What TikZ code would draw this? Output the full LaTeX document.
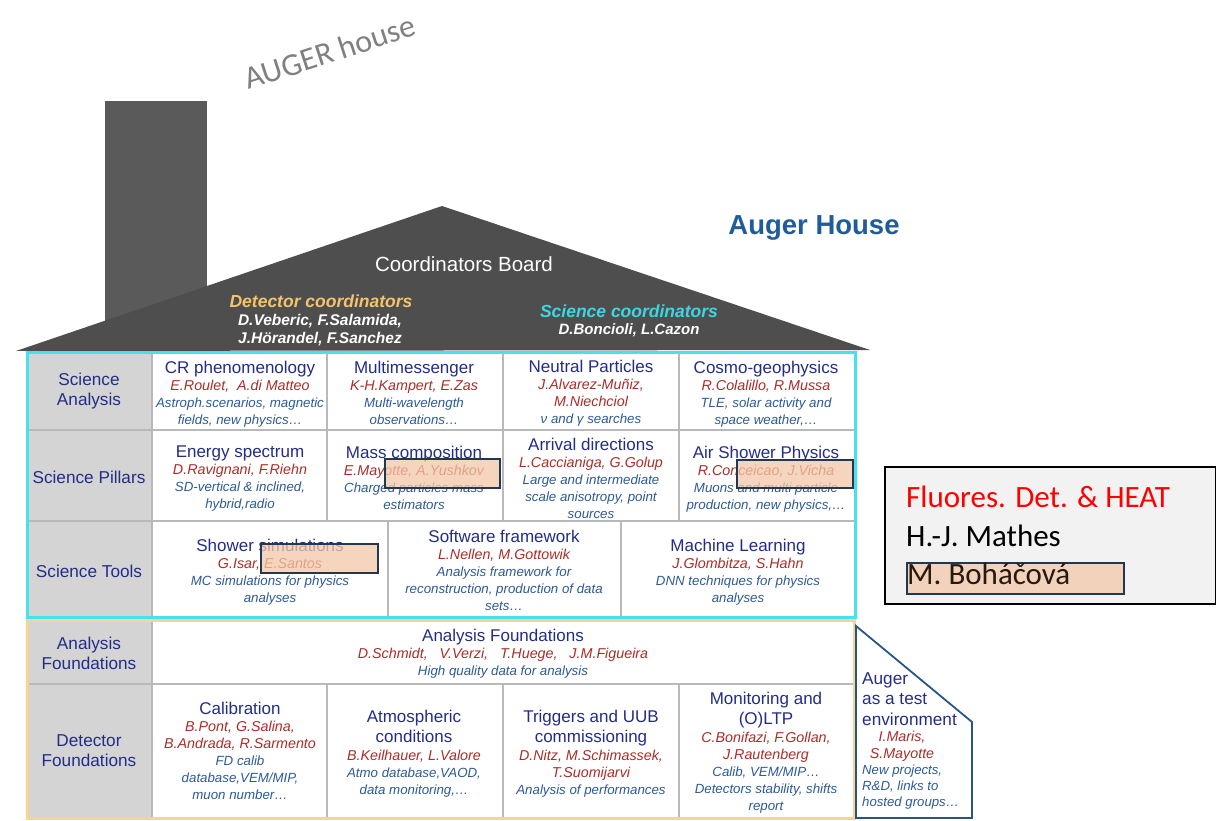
\documentclass[tikz,border=0pt]{standalone}
\usepackage{fontspec}
\setmainfont{Liberation Sans}
\newfontfamily\calib{Carlito}
\definecolor{ttlc}{RGB}{35,45,135}
\definecolor{nmc}{RGB}{170,45,40}
\definecolor{dsc}{RGB}{45,90,150}
\definecolor{lblgray}{RGB}{212,212,212}
\definecolor{cyanb}{RGB}{70,225,235}
\definecolor{orangeb}{RGB}{247,212,145}
\definecolor{gridc}{RGB}{185,185,185}
\definecolor{roofc}{RGB}{78,78,78}
\definecolor{chimc}{RGB}{90,90,90}
\definecolor{houseblue}{RGB}{31,92,153}
\definecolor{sideb}{RGB}{40,85,130}
\definecolor{peach}{RGB}{244,200,170}
\definecolor{hlb}{RGB}{35,55,80}
\definecolor{detc}{RGB}{245,195,105}
\definecolor{scic}{RGB}{60,215,225}
\definecolor{boxgray}{RGB}{242,242,242}
\newcommand\ttl[1]{{\upshape\fontsize{17}{19}\selectfont\color{ttlc}#1}}
\newcommand\nm[1]{{\fontsize{14.3}{17}\selectfont\color{nmc}#1}}
\newcommand\ds[1]{{\color{dsc}#1}}
\begin{document}
\begin{tikzpicture}[x=1pt,y=-1pt,
  cell/.style={align=center, inner sep=0pt, anchor=north, font=\fontsize{13.3}{17}\selectfont\itshape},
  lbl/.style={align=center, inner sep=0pt, text=ttlc, font=\fontsize{17.2}{20}\selectfont},
  gridline/.style={draw=gridc, line width=1.3pt},
  hl/.style={fill=peach, fill opacity=0.75, draw=hlb, line width=2pt},
  roofw/.style={text=white, inner sep=0pt, align=center},
]
\useasboundingbox (0,0) rectangle (1216,821);
% chimney and roof
\fill[chimc] (105,101) rectangle (207,340);
\fill[roofc] (16,351) -- (442,206) -- (870,350) -- cycle;
\node[text=black!50, font=\calib\fontsize{32}{36}\selectfont, rotate=18, inner sep=0pt] (augerhouse) at (330,52) {AUGER house};
\node[text=houseblue, font=\bfseries\fontsize{27.5}{30}\selectfont, inner sep=0pt] (augerH) at (814,228) {Auger House};
\node[roofw, font=\fontsize{20.5}{24}\selectfont] (board) at (464,264) {Coordinators Board};
\node[roofw, text=detc, font=\bfseries\itshape\fontsize{17.5}{20}\selectfont] (detcoord) at (321,301) {Detector coordinators};
\node[roofw, font=\bfseries\itshape\fontsize{15.5}{18}\selectfont, anchor=north] (detnames) at (320,314) {D.Veberic, F.Salamida,\\ J.Hörandel, F.Sanchez};
\node[roofw, text=scic, font=\bfseries\itshape\fontsize{17.5}{20}\selectfont] (scicoord) at (629,311) {Science coordinators};
\node[roofw, font=\bfseries\itshape\fontsize{15}{18}\selectfont] (scinames) at (629,330) {D.Boncioli, L.Cazon};

% science block
\fill[white] (27,352) rectangle (855,617);
\fill[lblgray] (27,352) rectangle (152,617);
\draw[gridline] (27,430) -- (855,430);
\draw[gridline] (27,521) -- (855,521);
\draw[gridline] (152,352) -- (152,617);
\foreach \xx in {327,503,679} \draw[gridline] (\xx,352) -- (\xx,521);
\foreach \xx in {388,621} \draw[gridline] (\xx,521) -- (\xx,617);
% foundations block
\fill[white] (27,620) rectangle (854,818);
\fill[lblgray] (27,620) rectangle (152,818);
\draw[gridline] (27,684) -- (854,684);
\draw[gridline] (152,620) -- (152,818);
\foreach \xx in {327,503,679} \draw[gridline] (\xx,684) -- (\xx,818);

% row labels
\node[lbl] (lsa) at (89,391) {Science\\Analysis};
\node[lbl] (lsp) at (89,477) {Science Pillars};
\node[lbl] (lst) at (89,571) {Science Tools};
\node[lbl] (laf) at (89,653) {Analysis\\Foundations};
\node[lbl] (ldf) at (89,751) {Detector\\Foundations};

% row 1
\node[cell] (crp) at (240,360.5) {\ttl{CR phenomenology}\\ \nm{E.Roulet,\ \ A.di Matteo}\\ \ds{Astroph.scenarios, magnetic}\\ \ds{fields, new physics\dots}};
\node[cell] (mm) at (414,360.5) {\ttl{Multimessenger}\\ \nm{K-H.Kampert, E.Zas}\\ \ds{Multi-wavelength}\\ \ds{observations\dots}};
\node[cell] (np) at (591,359.5) {\ttl{Neutral Particles}\\ \nm{J.Alvarez-Muñiz,}\\ \nm{M.Niechciol}\\ \ds{ν and γ searches}};
\node[cell] (cg) at (766,360.5) {\ttl{Cosmo-geophysics}\\ \nm{R.Colalillo, R.Mussa}\\ \ds{TLE, solar activity and}\\ \ds{space weather,\dots}};
% row 2
\node[cell] (es) at (240,445.5) {\ttl{Energy spectrum}\\ \nm{D.Ravignani, F.Riehn}\\ \ds{SD-vertical \& inclined,}\\ \ds{hybrid,radio}};
\node[cell] (mc) at (414,445.5) {\ttl{Mass composition}\\ \nm{E.Mayotte, A.Yushkov}\\ \ds{Charged particles mass}\\ \ds{estimators}};
\node[cell] (ad) at (591,437.5) {\ttl{Arrival directions}\\ \nm{L.Caccianiga, G.Golup}\\ \ds{Large and intermediate}\\ \ds{scale anisotropy, point}\\ \ds{sources}};
\node[cell] (asp) at (766,445.5) {\ttl{Air Shower Physics}\\ \nm{R.Conceicao, J.Vicha}\\ \ds{Muons and multi particle}\\ \ds{production, new physics,\dots}};
% row 3
\node[cell] (ss) at (270,538.5) {\ttl{Shower simulations}\\ \nm{G.Isar, E.Santos}\\ \ds{MC simulations for physics}\\ \ds{analyses}};
\node[cell] (sf) at (504,529.5) {\ttl{Software framework}\\ \nm{L.Nellen, M.Gottowik}\\ \ds{Analysis framework for}\\ \ds{reconstruction, production of data}\\ \ds{sets\dots}};
\node[cell] (ml) at (738,538.5) {\ttl{Machine Learning}\\ \nm{J.Glombitza, S.Hahn}\\ \ds{DNN techniques for physics}\\ \ds{analyses}};
% analysis foundations
\node[cell] (af) at (503,628.5) {\ttl{Analysis Foundations}\\ \nm{D.Schmidt,\ \ \ V.Verzi,\ \ \ T.Huege,\ \ \ J.M.Figueira}\\ \ds{High quality data for analysis}};
% detector foundations
\node[cell] (cal) at (240,701.5) {\ttl{Calibration}\\ \nm{B.Pont, G.Salina,}\\ \nm{B.Andrada, R.Sarmento}\\ \ds{FD calib}\\ \ds{database,VEM/MIP,}\\ \ds{muon number\dots}};
\node[cell] (atm) at (414,709.5) {\ttl{Atmospheric}\\[3pt] \ttl{conditions}\\[1pt] \nm{B.Keilhauer, L.Valore}\\ \ds{Atmo database,VAOD,}\\ \ds{data monitoring,\dots}};
\node[cell] (trg) at (591,709.5) {\ttl{Triggers and UUB}\\[3pt] \ttl{commissioning}\\[1pt] \nm{D.Nitz, M.Schimassek,}\\ \nm{T.Suomijarvi}\\ \ds{Analysis of performances}};
\node[cell] (mon) at (766,691.5) {\ttl{Monitoring and}\\[3pt] \ttl{(O)LTP}\\[1pt] \nm{C.Bonifazi, F.Gollan,}\\ \nm{J.Rautenberg}\\ \ds{Calib, VEM/MIP\dots}\\ \ds{Detectors stability, shifts}\\ \ds{report}};

% frames
\draw[cyanb, line width=3pt] (27,352) rectangle (855,617);
\draw[orangeb, line width=3pt] (27,620) rectangle (854,818);

% side box
\draw[sideb, line width=1.8pt] (856,626) -- (972,722) -- (972,818) -- (856,818) -- cycle;
\node[align=left, inner sep=0pt, anchor=north west, text=ttlc, font=\fontsize{17.2}{20.5}\selectfont] (sidet) at (862,672) {Auger\\as a test\\environment};
\node[align=center, inner sep=0pt, anchor=north, text=nmc, font=\itshape\fontsize{14.3}{17}\selectfont] (siden) at (902,731) {I.Maris,\\S.Mayotte};
\node[align=left, inner sep=0pt, anchor=north west, text=dsc, font=\itshape\fontsize{13.2}{16}\selectfont] (sided) at (862,765) {New projects,\\R\&D, links to\\hosted groups\dots};

% highlight boxes
\draw[hl] (385,459) rectangle (500,488);
\draw[hl] (737,460) rectangle (853,488);
\draw[hl] (261,544) rectangle (378,573);

% right box
\draw[black, fill=boxgray, line width=1.2pt] (885,467) rectangle (1215.5,604);
\node[anchor=base west, inner sep=0pt, text=red, font=\calib\fontsize{31}{34}\selectfont] (fd) at (906,507) {Fluores. Det. \& HEAT};
\node[anchor=base west, inner sep=0pt, text=black, font=\calib\fontsize{31}{34}\selectfont] (hjm) at (906,546) {H.-J. Mathes};
\draw[hl] (907,563) rectangle (1124,594);
\node[anchor=base west, inner sep=0pt, text=black!80!brown, font=\calib\fontsize{31}{34}\selectfont] (mb) at (907,584) {M. Boháčová};
\end{tikzpicture}
\end{document}
